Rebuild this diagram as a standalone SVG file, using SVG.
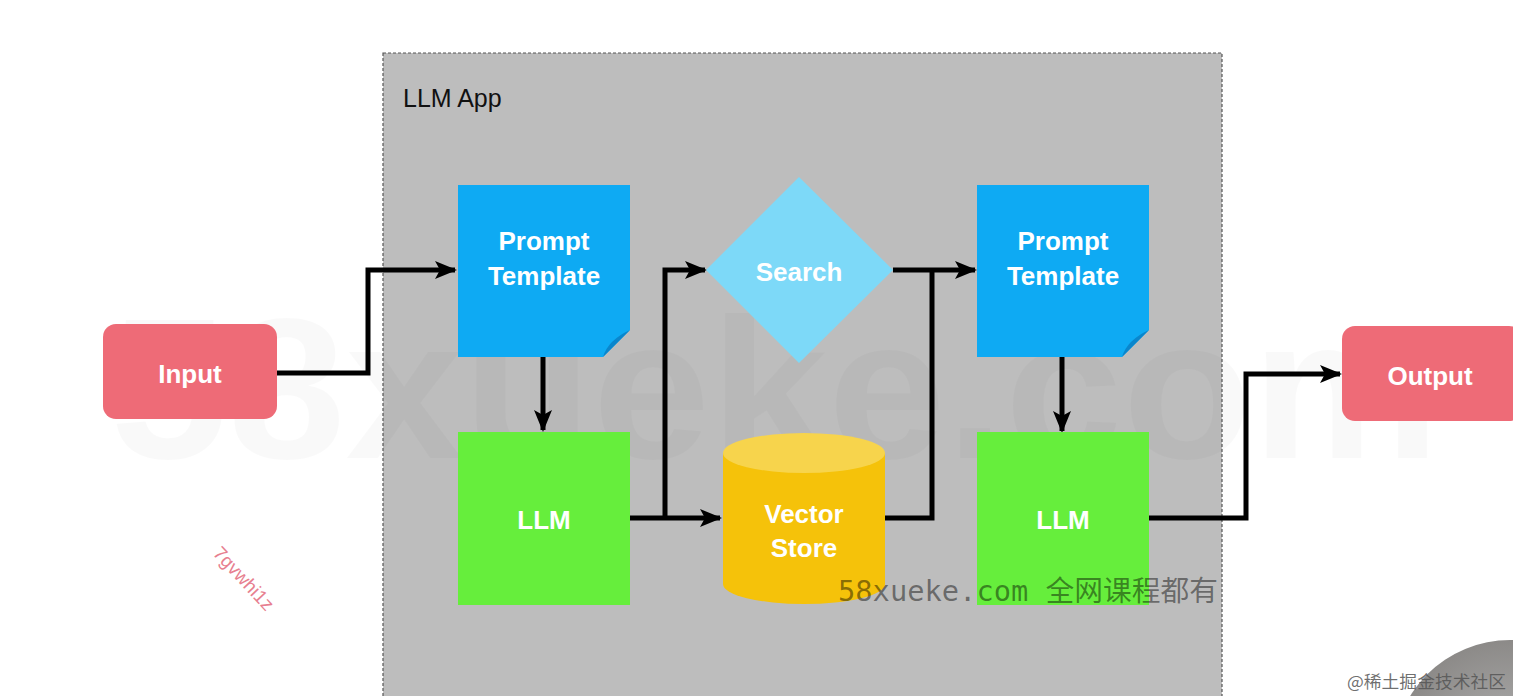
<svg xmlns="http://www.w3.org/2000/svg" width="1513" height="696" viewBox="0 0 1513 696">
<defs>
<style>
.lbl{font-family:"Liberation Sans",Arial,sans-serif;font-weight:bold;font-size:26px;fill:#ffffff;text-anchor:middle}
.conn{fill:none;stroke:#000;stroke-width:5;stroke-linejoin:miter}
</style>
<marker id="arr" markerUnits="userSpaceOnUse" markerWidth="22" markerHeight="18" refX="20" refY="9" orient="auto">
<path d="M0,0 L22,9 L0,18 L5,9 Z" fill="#000"/>
</marker>
<radialGradient id="circ" cx="0.5" cy="0.5" r="0.5">
<stop offset="0" stop-color="#b4b4b4"/>
<stop offset="1" stop-color="#8c8a88"/>
</radialGradient>
</defs>
<rect width="1513" height="696" fill="#ffffff"/>
<g id="container">
<rect x="383" y="53" width="839" height="645" fill="#bdbdbd" stroke="#555" stroke-width="1.2" stroke-dasharray="3,2"/>
<text x="403" y="107" font-family="Liberation Sans,Arial,sans-serif" font-size="25" fill="#111">LLM App</text>
</g>
<text x="775" y="458" font-family="Liberation Sans,Arial,sans-serif" font-weight="bold" font-size="200" fill="#000" fill-opacity="0.025" text-anchor="middle" textLength="1330" lengthAdjust="spacingAndGlyphs">58xueke.com</text>
<g id="connectors">
<polyline class="conn" points="277,373 368,373 368,270 455,270" marker-end="url(#arr)"/>
<polyline class="conn" points="543,357 543,430" marker-end="url(#arr)"/>
<polyline class="conn" points="630,518 720,518" marker-end="url(#arr)"/>
<polyline class="conn" points="665,518 665,270 705,270" marker-end="url(#arr)"/>
<polyline class="conn" points="893,270 975,270" marker-end="url(#arr)"/>
<polyline class="conn" points="885,518 932,518 932,270"/>
<polyline class="conn" points="1062,357 1062,431" marker-end="url(#arr)"/>
<polyline class="conn" points="1149,518 1246,518 1246,374 1340,374" marker-end="url(#arr)"/>
</g>
<g id="input">
<rect x="103" y="324" width="174" height="95" rx="13" fill="#ee6b77"/>
<text class="lbl" x="190" y="383">Input</text>
</g>
<g id="output">
<rect x="1342" y="326" width="180" height="95" rx="13" fill="#ee6b77"/>
<text class="lbl" x="1430" y="385">Output</text>
</g>
<g id="prompt1">
<path d="M458,185 H630 V330 L603,357 H458 Z" fill="#0eaaf3"/>
<path d="M630,330 L603,357 Q608,340 630,330 Z" fill="#0a86cc"/>
<text class="lbl" x="544" y="250">Prompt</text>
<text class="lbl" x="544" y="285">Template</text>
</g>
<g id="llm1">
<rect x="458" y="432" width="172" height="173" fill="#66ee3c"/>
<text class="lbl" x="544" y="529">LLM</text>
</g>
<g id="search">
<polygon points="799,177 893,270 799,363 706,270" fill="#7dd9f8"/>
<text class="lbl" x="799" y="281">Search</text>
</g>
<g id="vectorstore">
<path d="M723,453 V584 A81,20 0 0 0 885,584 V453 Z" fill="#f5c20a"/>
<ellipse cx="804" cy="453" rx="81" ry="20" fill="#f7d44c"/>
<text class="lbl" x="804" y="523">Vector</text>
<text class="lbl" x="804" y="557">Store</text>
</g>
<g id="prompt2">
<path d="M977,185 H1149 V330 L1122,357 H977 Z" fill="#0eaaf3"/>
<path d="M1149,330 L1122,357 Q1127,340 1149,330 Z" fill="#0a86cc"/>
<text class="lbl" x="1063" y="250">Prompt</text>
<text class="lbl" x="1063" y="285">Template</text>
</g>
<g id="llm2">
<rect x="977" y="432" width="172" height="173" fill="#66ee3c"/>
<text class="lbl" x="1063" y="529">LLM</text>
</g>
<text x="0" y="0" transform="translate(212,554) rotate(47)" font-family="Liberation Sans,Arial,sans-serif" font-size="19" fill="#e77f90">7gvwhi1z</text>
<text x="838" y="601" font-family="'DejaVu Sans Mono','Noto Sans CJK SC',monospace" font-size="28" fill="#000" fill-opacity="0.45" textLength="380" lengthAdjust="spacingAndGlyphs">58xueke.com 全网课程都有</text>
<circle cx="1510" cy="757" r="117" fill="url(#circ)"/>
<text x="1347" y="688" font-family="'Noto Sans CJK SC',sans-serif" font-size="17" fill="#555" fill-opacity="0.85" textLength="159" lengthAdjust="spacingAndGlyphs">@稀土掘金技术社区</text>
</svg>
